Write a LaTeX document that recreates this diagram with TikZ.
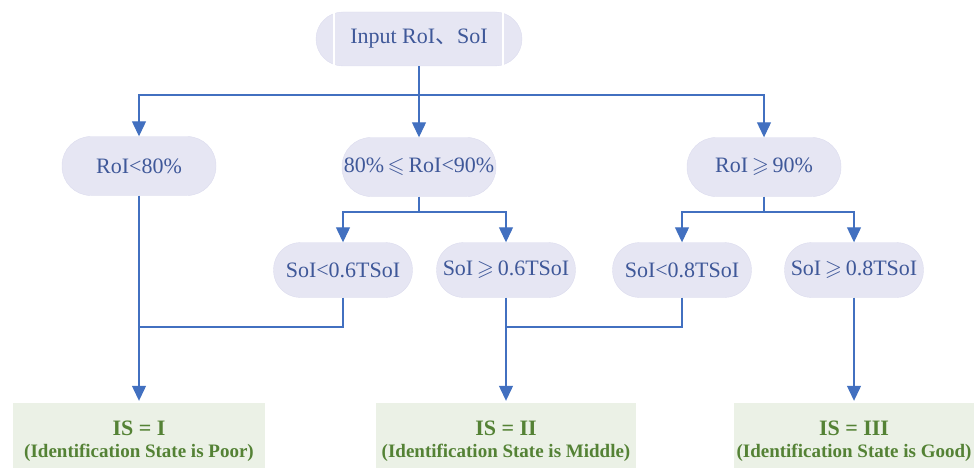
\documentclass[tikz,border=0pt]{standalone}
\usepackage{amssymb}
\usepackage{fontspec}
\setmainfont{Liberation Serif}
\newfontfamily\cjk{Noto Sans CJK SC}
\usetikzlibrary{arrows.meta}
\definecolor{condfill}{HTML}{E6E6F3}
\definecolor{condedge}{HTML}{DCDCEE}
\definecolor{condtext}{HTML}{3F5899}
\definecolor{linkblue}{HTML}{4270C0}
\definecolor{statefill}{HTML}{EBF1E6}
\definecolor{statetext}{HTML}{548235}
\begin{document}
\begin{tikzpicture}[x=1pt, y=-1pt,
    cond/.style={fill=condfill, draw=condedge, text=condtext, font=\fontsize{22}{26}\selectfont,
      minimum width=154pt, minimum height=59pt, rounded corners=29pt, inner sep=0pt},
    subcond/.style={cond, minimum width=139pt, minimum height=55pt, rounded corners=27pt},
    state/.style={fill=statefill, text=statetext, font=\bfseries\fontsize{22}{22}\selectfont, align=center,
      minimum height=76pt, inner sep=0pt},
    link/.style={draw=linkblue, line width=1.2pt},
    arr/.style={link, -{Triangle[width=14pt,length=15pt]}}]
  \useasboundingbox (0,0) rectangle (979,468);

  \node[cond, minimum width=206pt, minimum height=54pt, rounded corners=27pt] (input) at (419,39) {Input RoI{\cjk 、}SoI};
  \draw[white, line width=2pt] ([xshift=18pt]input.north west) -- ([xshift=18pt]input.south west);
  \draw[white, line width=2pt] ([xshift=-19pt]input.north east) -- ([xshift=-19pt]input.south east);

  \node[cond] (roiA) at (139,166) {RoI<80\%};
  \node[cond] (roiB) at (419,167) {80\%\,$\leqslant$\,RoI<90\%};
  \node[cond] (roiC) at (764,167) {RoI\,$\geqslant$\,90\%};

  \node[subcond] (soiA) at (343,270) {SoI<0.6TSoI};
  \node[subcond] (soiB) at (506,270) {SoI\,$\geqslant$\,0.6TSoI};
  \node[subcond] (soiC) at (682,270) {SoI<0.8TSoI};
  \node[subcond] (soiD) at (854,270) {SoI\,$\geqslant$\,0.8TSoI};

  \node[state, minimum width=252pt] (isI) at (139,441)
    {IS = I\\{\fontsize{19}{22}\selectfont (Identification State is Poor)}};
  \node[state, minimum width=260pt] (isII) at (506,441)
    {IS = II\\{\fontsize{19}{22}\selectfont (Identification State is Middle)}};
  \node[state, minimum width=240pt] (isIII) at (854,441)
    {IS = III\\{\fontsize{19}{22}\selectfont (Identification State is Good)}};

  \coordinate (forkTop) at (419,95);
  \coordinate (forkMid) at (419,212);
  \coordinate (forkHigh) at (764,212);
  \coordinate (joinPoor) at (139,327);
  \coordinate (joinMid) at (506,327);

  \draw[link] (input) -- (forkTop);
  \draw[arr] (forkTop) -| (roiA);
  \draw[arr] (forkTop) -- (roiB);
  \draw[arr] (forkTop) -| (roiC);

  \draw[link] (roiB) -- (forkMid);
  \draw[arr] (forkMid) -| (soiA);
  \draw[arr] (forkMid) -| (soiB);
  \draw[link] (roiC) -- (forkHigh);
  \draw[arr] (forkHigh) -| (soiC);
  \draw[arr] (forkHigh) -| (soiD);

  \draw[link] (soiA) |- (joinPoor);
  \draw[arr, shorten >=2pt] (roiA) -- (isI);
  \draw[link] (soiC) |- (joinMid);
  \draw[arr, shorten >=2pt] (soiB) -- (isII);
  \draw[arr, shorten >=2pt] (soiD) -- (isIII);
\end{tikzpicture}
\end{document}
